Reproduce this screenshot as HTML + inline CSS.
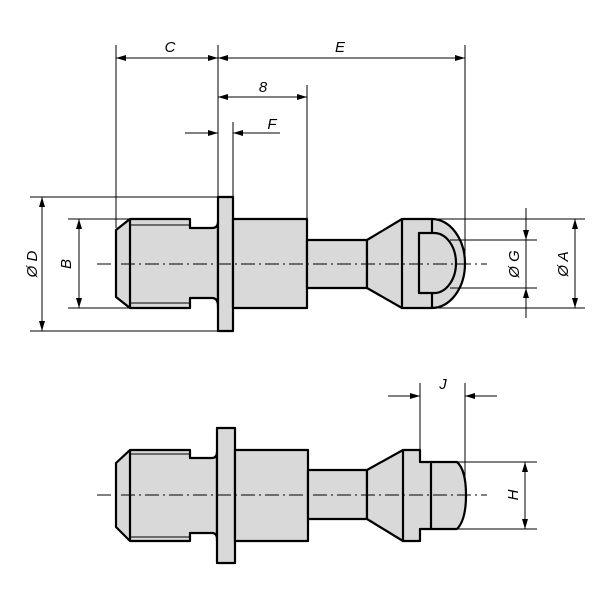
<!DOCTYPE html>
<html><head><style>body{margin:0;background:#fff}svg{display:block}text{font-family:"Liberation Sans",sans-serif;font-style:italic;font-size:15px;fill:#000}</style></head>
<body>
<svg width="600" height="600" viewBox="0 0 600 600">
<defs>
<marker id="a" viewBox="0 0 10 6" refX="10" refY="3" markerWidth="10" markerHeight="6" orient="auto-start-reverse" markerUnits="userSpaceOnUse"><path d="M0,0L10,3L0,6z" fill="#000"/></marker>
</defs>
<g fill="#d9d9d9" stroke="#000" stroke-width="2.2" stroke-linejoin="round">
<!-- top view -->
<path d="M130,219H190V228H212Q218,228 218,222V308V306Q218,298 212,298H190V308H130L116,297V230Z"/>
<rect x="218" y="197" width="15" height="134"/>
<rect x="233" y="219" width="74" height="89"/>
<rect x="307" y="240" width="60" height="48"/>
<path d="M367,240L402,219H432A33,44.5 0 0 1 432,308H402L367,288Z"/>
<path d="M419,233H434A22,30 0 0 1 434,293H419Z"/>
<line x1="402" y1="219" x2="402" y2="308"/><line x1="432" y1="219" x2="432" y2="233"/><line x1="432" y1="293" x2="432" y2="308"/>
<line x1="130" y1="219" x2="130" y2="308"/>
<!-- bottom view -->
<path d="M130,450H190V458H212Q217,458 217,452V541V539Q217,533 212,533H190V541H130L116,527V463Z"/>
<rect x="217" y="428" width="18" height="135"/>
<rect x="235" y="450" width="73" height="91"/>
<rect x="308" y="470" width="59" height="49"/>
<path d="M367,470L403,450H420V462H457Q466,470 466,495Q466,520 457,529H420V541H403L367,519Z"/>
<line x1="403" y1="450" x2="403" y2="541"/><line x1="431" y1="462" x2="431" y2="529"/>
<line x1="130" y1="450" x2="130" y2="541"/>
</g>
<g stroke="#000" stroke-width="1" fill="none">
<line x1="130" y1="225" x2="190" y2="225"/><line x1="130" y1="303" x2="190" y2="303"/>
<line x1="130" y1="454" x2="190" y2="454"/><line x1="130" y1="537" x2="190" y2="537"/>
<line x1="97" y1="264" x2="487" y2="264" stroke-dasharray="14,4,2,4"/>
<line x1="97" y1="495" x2="487" y2="495" stroke-dasharray="14,4,2,4"/>
<!-- ext lines -->
<line x1="30" y1="197" x2="218" y2="197"/><line x1="30" y1="331" x2="218" y2="331"/>
<line x1="68" y1="219" x2="130" y2="219"/><line x1="68" y1="308" x2="130" y2="308"/>
<line x1="116" y1="45" x2="116" y2="228"/><line x1="218" y1="45" x2="218" y2="197"/>
<line x1="233" y1="122" x2="233" y2="197"/><line x1="307" y1="85" x2="307" y2="219"/>
<line x1="465" y1="45" x2="465" y2="262"/>
<line x1="432" y1="219" x2="585" y2="219"/><line x1="432" y1="308" x2="585" y2="308"/>
<line x1="450" y1="240" x2="537" y2="240"/><line x1="450" y1="288" x2="537" y2="288"/>
<line x1="457" y1="462" x2="537" y2="462"/><line x1="457" y1="529" x2="537" y2="529"/>
<line x1="420" y1="383" x2="420" y2="460"/><line x1="465" y1="383" x2="465" y2="480"/>
<!-- dims -->
<line x1="42" y1="197" x2="42" y2="331" marker-start="url(#a)" marker-end="url(#a)"/>
<line x1="79" y1="219" x2="79" y2="308" marker-start="url(#a)" marker-end="url(#a)"/>
<line x1="116" y1="58" x2="218" y2="58" marker-start="url(#a)" marker-end="url(#a)"/>
<line x1="218" y1="58" x2="465" y2="58" marker-start="url(#a)" marker-end="url(#a)"/>
<line x1="218" y1="97" x2="307" y2="97" marker-start="url(#a)" marker-end="url(#a)"/>
<line x1="185" y1="133" x2="218" y2="133" marker-end="url(#a)"/>
<line x1="280" y1="133" x2="233" y2="133" marker-end="url(#a)"/>
<line x1="526" y1="208" x2="526" y2="240" marker-end="url(#a)"/>
<line x1="526" y1="318" x2="526" y2="288" marker-end="url(#a)"/>
<line x1="526" y1="240" x2="526" y2="288"/>
<line x1="575" y1="219" x2="575" y2="308" marker-start="url(#a)" marker-end="url(#a)"/>
<line x1="525" y1="462" x2="525" y2="529" marker-start="url(#a)" marker-end="url(#a)"/>
<line x1="388" y1="396" x2="420" y2="396" marker-end="url(#a)"/>
<line x1="497" y1="396" x2="465" y2="396" marker-end="url(#a)"/>
</g>
<text x="170" y="52" text-anchor="middle">C</text>
<text x="340" y="52" text-anchor="middle">E</text>
<text x="263" y="92" text-anchor="middle">8</text>
<text x="272" y="129" text-anchor="middle">F</text>
<text x="443" y="389" text-anchor="middle">J</text>
<text transform="translate(37,264) rotate(-90)" text-anchor="middle">Ø D</text>
<text transform="translate(71,264) rotate(-90)" text-anchor="middle">B</text>
<text transform="translate(519,264) rotate(-90)" text-anchor="middle">Ø G</text>
<text transform="translate(568,264) rotate(-90)" text-anchor="middle">Ø A</text>
<text transform="translate(518,495) rotate(-90)" text-anchor="middle">H</text>
</svg>
</body></html>
